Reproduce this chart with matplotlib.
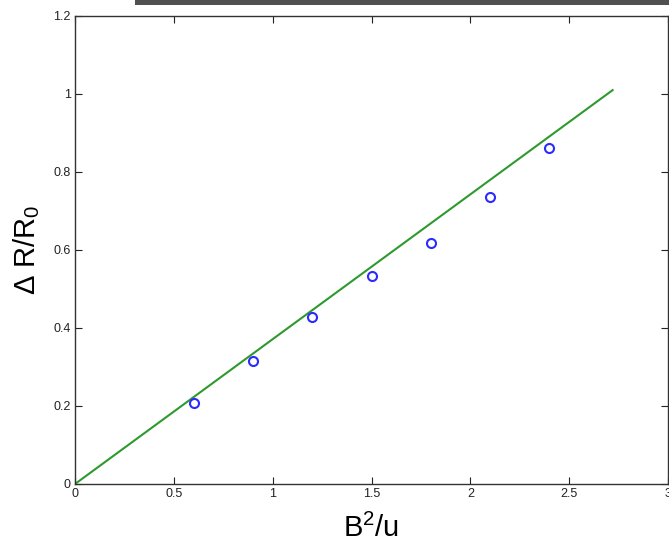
import matplotlib
matplotlib.use("Agg")
import matplotlib.pyplot as plt
from matplotlib.patches import Rectangle

# Data
x_points = [0.6, 0.9, 1.2, 1.5, 1.8, 2.1, 2.4]
y_points = [0.208, 0.315, 0.427, 0.533, 0.618, 0.736, 0.862]
fit_x = [0.0, 2.72]
fit_y = [0.0, 1.01]
x_ticks = [0, 0.5, 1, 1.5, 2, 2.5, 3]
x_ticklabels = ["0", "0.5", "1", "1.5", "2", "2.5", "3"]
y_ticks = [0, 0.2, 0.4, 0.6, 0.8, 1, 1.2]
y_ticklabels = ["0", "0.2", "0.4", "0.6", "0.8", "1", "1.2"]

plt.rcParams['font.family'] = ['Liberation Sans', 'DejaVu Sans']
plt.rcParams['mathtext.default'] = 'regular'

fig = plt.figure(figsize=(6.69, 5.45), dpi=100)
W, H = 669, 545
ax = fig.add_axes([75 / W, (H - 484) / H, 593 / W, 468 / H])

# top dark bar (screenshot decoration)
fig.patches.append(Rectangle((135 / W, (H - 5) / H), (W - 135) / W, 5 / H,
                             transform=fig.transFigure, facecolor='#505050',
                             edgecolor='none', zorder=0))

ax.plot(fit_x, fit_y, color='#2e9a2e', linewidth=1.5, zorder=2)
ax.plot(x_points, y_points, linestyle='none', marker='o', markersize=6.5,
        markerfacecolor='none', markeredgecolor='#2b2bff', markeredgewidth=1.5,
        zorder=3)

ax.set_xlim(0, 3)
ax.set_ylim(0, 1.2)
ax.set_xticks(x_ticks)
ax.set_xticklabels(x_ticklabels)
ax.set_yticks(y_ticks)
ax.set_yticklabels(y_ticklabels)
ax.tick_params(direction='in', top=True, right=True, length=5, width=0.8,
               labelsize=9, colors='#222222', pad=3)
for s in ax.spines.values():
    s.set_linewidth(1.0)
    s.set_color('#333333')

ax.set_xlabel(r'B$^2$/u', fontsize=21, labelpad=10)
ax.set_ylabel(r'$\Delta$ R/R$_0$', fontsize=21, labelpad=8)

fig.savefig('out.png', dpi=100)
